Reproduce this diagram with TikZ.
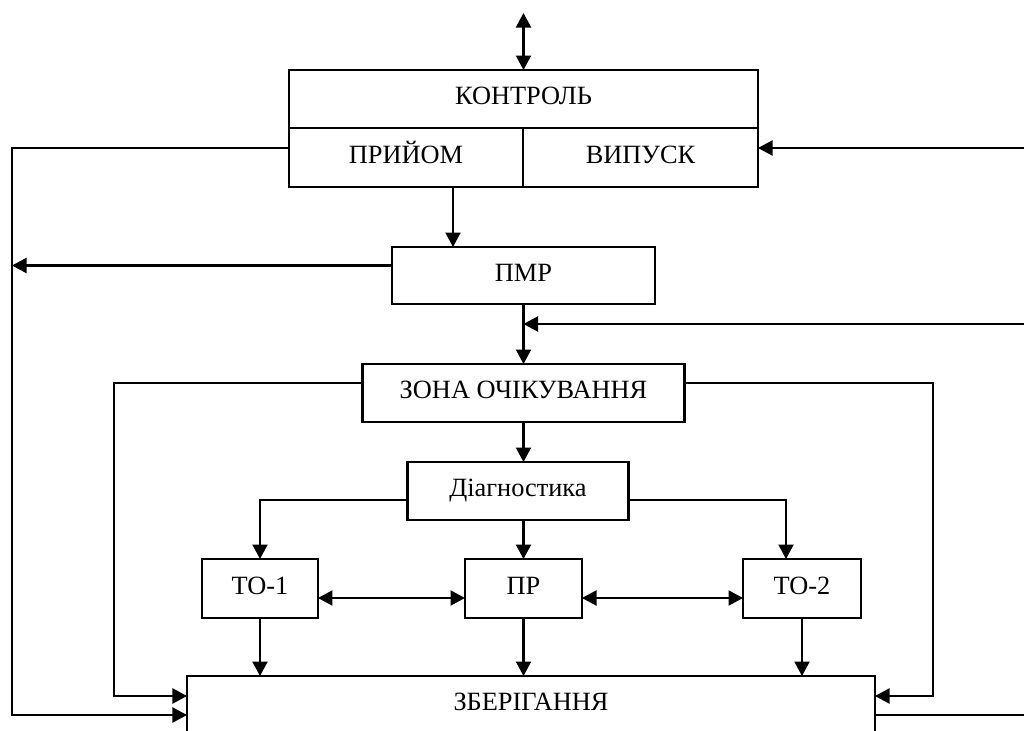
\documentclass[tikz,border=0pt]{standalone}
\usepackage{fontspec}
\setmainfont{Liberation Serif}
\usepackage{tikz}
\usetikzlibrary{arrows.meta,positioning,calc}

\begin{document}
\begin{tikzpicture}[
  x=0.2mm,y=-0.2mm,
  every node/.style={font=\fontsize{15}{18}\selectfont},
  box/.style={draw,line width=1.2pt,minimum height=11.6mm,align=center,inner sep=0pt,outer sep=0pt,text height=0.68em,text depth=0pt},
  line/.style={line width=1.2pt},
  arr/.style={line,-{Triangle[length=2.9mm,width=3mm]}},
  dblarr/.style={line,{Triangle[length=2.9mm,width=3mm]}-{Triangle[length=2.9mm,width=3mm]}}
]
\useasboundingbox (0,0) rectangle (1024,731);
\node[box,minimum width=93.8mm] (ctrl) at (523.5,99) {КОНТРОЛЬ};
\node[box,minimum width=46.8mm,minimum height=11.8mm,anchor=north west] (pryjom) at (ctrl.south west) {ПРИЙОМ};
\node[box,minimum width=47mm,minimum height=11.8mm,anchor=north east] (vypusk) at (ctrl.south east) {ВИПУСК};
\node[box,minimum width=52.6mm,minimum height=11.4mm,below=23.8mm of ctrl] (pmr) {ПМР};
\node[box,minimum width=64.4mm,below=12mm of pmr] (zona) {ЗОНА ОЧІКУВАННЯ};
\node[box,minimum width=44.2mm,below=8mm of zona,xshift=-1.1mm] (diag) {Діагностика};
\node[box,minimum width=23.4mm,minimum height=11.8mm,below=27.4mm of zona] (pr) {ПР};
\node[box,minimum width=23.2mm,minimum height=11.8mm,left=29.4mm of pr] (to1) {ТО-1};
\node[box,minimum width=23.6mm,minimum height=11.8mm,right=32.2mm of pr] (to2) {ТО-2};
\node[box,minimum width=137.6mm,below=11.6mm of pr,xshift=1.5mm] (zber) {ЗБЕРІГАННЯ};

% free ends and corners
\coordinate (top) at (523.5,13);
\coordinate (lbot) at (12,715);
\coordinate (rtop) at (1024,148);
\coordinate (rmid) at (1024,324);
\coordinate (lin) at (114,696);
\coordinate (rin) at (933,696);
\coordinate (rbot) at (1024,715);

\draw[dblarr] (top) -- (ctrl);
\draw[arr] ([xshift=9.4mm]pryjom.south) -- ([xshift=9.4mm]pryjom.south |- pmr.north);
\draw[arr] ([yshift=1.9mm]pryjom.west) -| (lbot) -- (lbot -| zber.west);
\draw[arr] (rtop) -- (rtop -| vypusk.east);
\draw[arr] ([yshift=2mm]pmr.west) -- ([yshift=2mm]pmr.west -| lbot);
\draw[arr] (pmr) -- (zona);
\draw[arr] (rmid) -- (rmid -| pmr.south);
\draw[arr] ([yshift=2mm]zona.west) -| (lin) -- (lin -| zber.west);
\draw[arr] ([yshift=2mm]zona.east) -| (rin) -- (rin -| zber.east);
\draw[arr] (zona.south -| pr) -- (pr |- diag.north);
\draw[arr] ([yshift=-1.8mm]diag.west) -| (to1);
\draw[arr] ([yshift=-1.8mm]diag.east) -| ([xshift=-3.2mm]to2.north);
\draw[arr] (diag.south -| pr) -- (pr);
\draw[dblarr] ([yshift=-1.9mm]to1.east) -- ([yshift=-1.9mm]pr.west);
\draw[dblarr] ([yshift=-1.9mm]pr.east) -- ([yshift=-1.9mm]to2.west);
\draw[arr] (to1) -- (to1 |- zber.north);
\draw[arr] (pr) -- (pr |- zber.north);
\draw[arr] (to2) -- (to2 |- zber.north);
\draw[line] (rbot -| zber.east) -- (rbot);
\end{tikzpicture}
\end{document}
